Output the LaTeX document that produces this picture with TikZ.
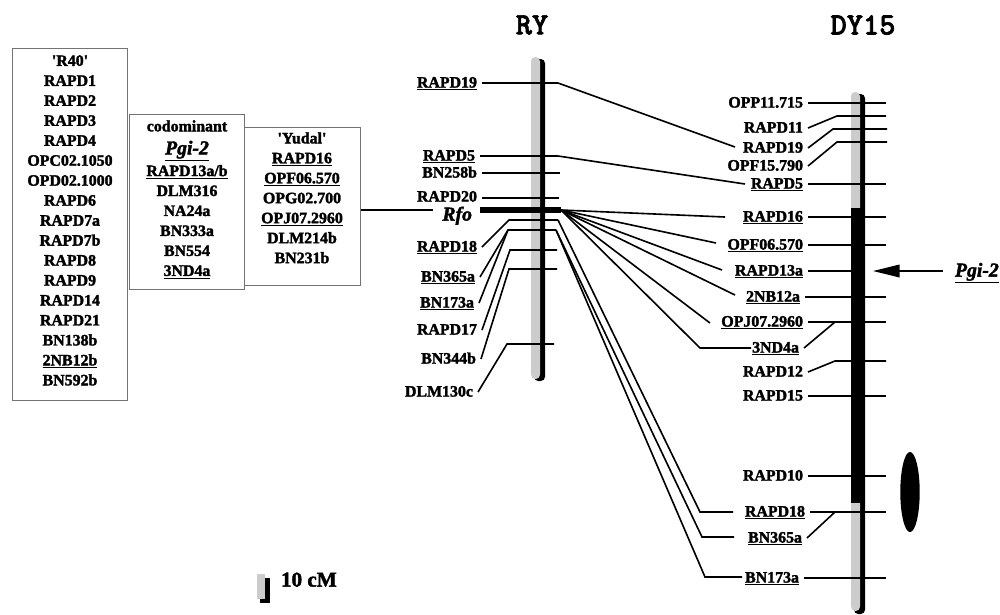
\documentclass[tikz,border=0pt]{standalone}
\usepackage{fontspec}
\setmainfont{Liberation Serif}[BoldFeatures={FakeBold=2}, BoldItalicFeatures={FakeBold=2}]
\newfontfamily\titlefont{lmmonolt10-bold.otf}[FakeBold=2]
\usetikzlibrary{arrows.meta,positioning,calc,shapes.geometric}
\tikzset{
  locus/.style={font=\bfseries\fontsize{11.3}{14.2}\selectfont, inner xsep=3pt, inner ysep=0pt,
                text height=9pt, text depth=2.5pt},
  lft/.style={locus, anchor=east},
  link/.style={line width=1.15pt, black},
  listbox/.style={draw=black!55, line width=0.6pt, inner sep=0pt, anchor=north west},
  listtext/.style={align=center, anchor=north, inner sep=0pt,
                   font=\bfseries\fontsize{11.3}{14.2}\selectfont},
  chrgray/.style={fill=gray!40, rounded corners=3pt},
  chrshadow/.style={fill=black, rounded corners=3pt},
  ttl/.style={font=\titlefont\fontsize{22}{24}\selectfont},
}

\begin{document}
\begin{tikzpicture}[x=0.025cm, y=-0.025cm, line width=1.15pt]
\useasboundingbox (0,0) rectangle (1000,614);

% parental lists
\node[listbox, minimum width=81.8pt, minimum height=250.4pt] (boxR40) at (12,48) {};
\node[listbox, minimum width=81.8pt, minimum height=124.5pt] (boxCod) at (129,114) {};
\node[listbox, minimum width=82.5pt, minimum height=112.4pt] (boxYud) at (244,127) {};
\node[listtext] (txtR40) at (70,54.5)
{\textquotesingle R40\textquotesingle\\ RAPD1\\ RAPD2\\ RAPD3\\ RAPD4\\ OPC02.1050\\ OPD02.1000\\
 RAPD6\\ RAPD7a\\ RAPD7b\\ RAPD8\\ RAPD9\\ RAPD14\\ RAPD21\\ BN138b\\ \underline{2NB12b}\\ BN592b};
\node[listtext] (txtCod) at (187,119.5)
{codominant\\[2.2pt] {\fontsize{14}{16}\selectfont\underline{\textit{Pgi-2}}}\\[1.2pt]
 \underline{RAPD13a/b}\\ DLM316\\ NA24a\\ BN333a\\ BN554\\ \underline{3ND4a}};
\node[listtext] (txtYud) at (302,131.5)
{\textquotesingle Yudal\textquotesingle\\ \underline{RAPD16}\\ \underline{OPF06.570}\\ OPG02.700\\
 \underline{OPJ07.2960}\\ DLM214b\\ BN231b};

% titles
\node[ttl] (tRY) at (532,25) {RY};
\node[ttl] (tDY) at (863,25) {DY15};

% chromosomes
\path[chrshadow] (534,59) rectangle (545,381);
\path[chrgray] (531,57) rectangle (540,379);
\path[chrshadow] (854,94) rectangle (865,614);
\path[chrgray] (851,92) rectangle (860,611);
\fill[black] (851,208) rectangle (865,503);

% RY loci
\node[lft] (ryR19) at (482,83) {\underline{RAPD19}};
\node[lft] (ryR5) at (480,156) {\underline{RAPD5}};
\node[lft] (ryBN258) at (482,173) {BN258b};
\node[lft] (ryR20) at (482,197) {RAPD20};
\node[lft, font=\bfseries\itshape\fontsize{14}{16}\selectfont] (rfo) at (477,216) {Rfo};
\node[lft] (ryR18) at (482,247) {\underline{RAPD18}};
\node[lft] (ryBN365) at (480,277) {\underline{BN365a}};
\node[lft] (ryBN173) at (479,303) {\underline{BN173a}};
\node[lft] (ryR17) at (482,330) {RAPD17};
\node[lft] (ryBN344) at (481,359) {BN344b};
\node[lft] (ryDLM130) at (478,392) {DLM130c};

\coordinate (ry19) at (558,83);
\coordinate (ry5) at (558,156);
\coordinate (ry258) at (560,173);
\coordinate (ry20) at (559,198);
\coordinate (rfoL) at (480,210);
\coordinate (rfoR) at (561,210);
\coordinate (ry18L) at (509,220);
\coordinate (ry18R) at (558,220);
\coordinate (ry365L) at (508,230);
\coordinate (ry365R) at (556,230);
\coordinate (ry17L) at (510,250);
\coordinate (ry17R) at (557,250);
\coordinate (ry344L) at (509,269);
\coordinate (ry344R) at (557,269);
\coordinate (ry130L) at (507,344);
\coordinate (ry130R) at (554,344);

\draw[link] (ryR19.east) -- (ry19);
\draw[link] (ryR5.east) -- (ry5);
\draw[link] (ryBN258.east) -- (ry258);
\draw[link] (ryR20.east |- ry20) -- (ry20);
\draw[line width=4.6pt] (rfoL) -- (rfoR);
\draw[link] (ryR18.east) -- (ry18L) -- (ry18R);
\draw[link] (ryBN365.east) -- (ry365L) -- (ry365R);
\draw[link] (ryBN173.east) -- (ry365L);
\draw[link] (ryR17.east) -- (ry17L) -- (ry17R);
\draw[link] (ryBN344.east) -- (ry344L) -- (ry344R);
\draw[link] (ryDLM130.east) -- (ry130L) -- (ry130R);
\draw[link, shorten >=3pt] (boxYud.east |- rfoL) -- (rfo.west |- rfoL);

% DY15 loci
\node[lft] (dyOPP11) at (808,103) {OPP11.715};
\node[lft] (dyR11) at (808,128) {RAPD11};
\node[lft] (dyR19) at (808,148) {RAPD19};
\node[lft] (dyOPF15) at (808,166) {OPF15.790};
\node[lft] (dyR5) at (808,184) {\underline{RAPD5}};
\node[lft] (dyR16) at (808,217) {\underline{RAPD16}};
\node[lft] (dyOPF06) at (808,245) {\underline{OPF06.570}};
\node[lft] (dyR13) at (808,271) {\underline{RAPD13a}};
\node[lft] (dy2NB) at (805,297) {\underline{2NB12a}};
\node[lft] (dyOPJ) at (808,322) {\underline{OPJ07.2960}};
\node[lft] (dy3ND) at (804,348) {\underline{3ND4a}};
\node[lft] (dyR12) at (808,372) {RAPD12};
\node[lft] (dyR15) at (808,396) {RAPD15};
\node[lft] (dyR10) at (808,476) {RAPD10};
\node[lft] (dyR18) at (810,512) {\underline{RAPD18}};
\node[lft] (dyBN365) at (807,538) {\underline{BN365a}};
\node[lft] (dyBN173) at (804,578) {\underline{BN173a}};

\coordinate (dyOPP11r) at (886,103);
\coordinate (dyR11c) at (837,116);
\coordinate (dyR11r) at (886,116);
\coordinate (dyR19c) at (833,129);
\coordinate (dyR19r) at (887,129);
\coordinate (dyOPF15c) at (837,142);
\coordinate (dyOPF15r) at (887,142);
\coordinate (dyR5r) at (886,184);
\coordinate (dyR16r) at (886,217);
\coordinate (dyOPF06r) at (886,245);
\coordinate (dyR13r) at (857,271);
\coordinate (dy2NBr) at (886,297);
\coordinate (dyOPJc) at (835,322);
\coordinate (dyOPJr) at (886,322);
\coordinate (dyR12c) at (835,361);
\coordinate (dyR12r) at (886,361);
\coordinate (dyR15r) at (886,396);
\coordinate (dyR10r) at (886,476);
\coordinate (dyR18c) at (835,512);
\coordinate (dyR18r) at (886,512);
\coordinate (dyBN173r) at (886,578);

\draw[link] (dyOPP11.east) -- (dyOPP11r);
\draw[link] (dyR11.east) -- (dyR11c) -- (dyR11r);
\draw[link] (dyR19.east) -- (dyR19c) -- (dyR19r);
\draw[link] (dyOPF15.east) -- (dyOPF15c) -- (dyOPF15r);
\draw[link] (dyR5.east) -- (dyR5r);
\draw[link] (dyR16.east) -- (dyR16r);
\draw[link] (dyOPF06.east) -- (dyOPF06r);
\draw[link] (dyR13.east) -- (dyR13r);
\draw[link] (dy2NB.east) -- (dy2NBr);
\draw[link] (dyOPJ.east) -- (dyOPJr);
\draw[link] (dy3ND.east) -- (dyOPJc);
\draw[link] (dyR12.east) -- (dyR12c) -- (dyR12r);
\draw[link] (dyR15.east) -- (dyR15r);
\draw[link] (dyR10.east) -- (dyR10r);
\draw[link] (dyR18.east) -- (dyR18r);
\draw[link] (dyBN365.east) -- (dyR18c);
\draw[link] (dyBN173.east) -- (dyBN173r);

% links between the two maps
\coordinate (e19) at (735,147);
\coordinate (e5) at (745,184);
\coordinate (eR16) at (725,217);
\coordinate (eOPF06) at (716,243);
\coordinate (eR13) at (722,270);
\coordinate (e2NB) at (735,295);
\coordinate (eOPJ) at (710,323);
\coordinate (c3ND) at (700,348);
\coordinate (h3ND) at (751,348);
\coordinate (c18) at (700,512);
\coordinate (h18) at (733,512);
\coordinate (c365) at (702,537);
\coordinate (h365) at (734,537);
\coordinate (c173) at (705,577);
\coordinate (h173) at (742,577);

\draw[link] (ry19) -- (e19);
\draw[link] (ry5) -- (e5);
\draw[link] (rfoR) -- (eR16);
\draw[link] (rfoR) -- (eOPF06);
\draw[link] (rfoR) -- (eR13);
\draw[link] (rfoR) -- (e2NB);
\draw[link] (rfoR) -- (eOPJ);
\draw[link] (rfoR) -- (c3ND) -- (h3ND);
\draw[link] (ry18R) -- (c18) -- (h18);
\draw[link] (ry365R) -- (c365) -- (h365);
\draw[link] (ry365R) -- (c173) -- (h173);

% Pgi-2 position and oval
\node[locus, anchor=west, font=\bfseries\fontsize{14}{16}\selectfont] (pgiR) at (950,272) {\underline{\textit{Pgi-2}}};
\coordinate (pgiTip) at (873,271);
\draw[link, shorten <=5pt, -{Triangle[length=19pt,width=9pt]}] (pgiR.west |- pgiTip) -- (pgiTip);
\node[ellipse, fill=black, minimum width=13.8pt, minimum height=57pt, inner sep=0pt] (oval) at (910,492) {};

% scale bar
\path[fill=black] (260,578) rectangle (270,603);
\path[fill=gray!40] (257,574) rectangle (265,599);
\node[locus, anchor=west, font=\bfseries\fontsize{15}{17}\selectfont] (scale) at (276,582) {10 cM};
\end{tikzpicture}
\end{document}
